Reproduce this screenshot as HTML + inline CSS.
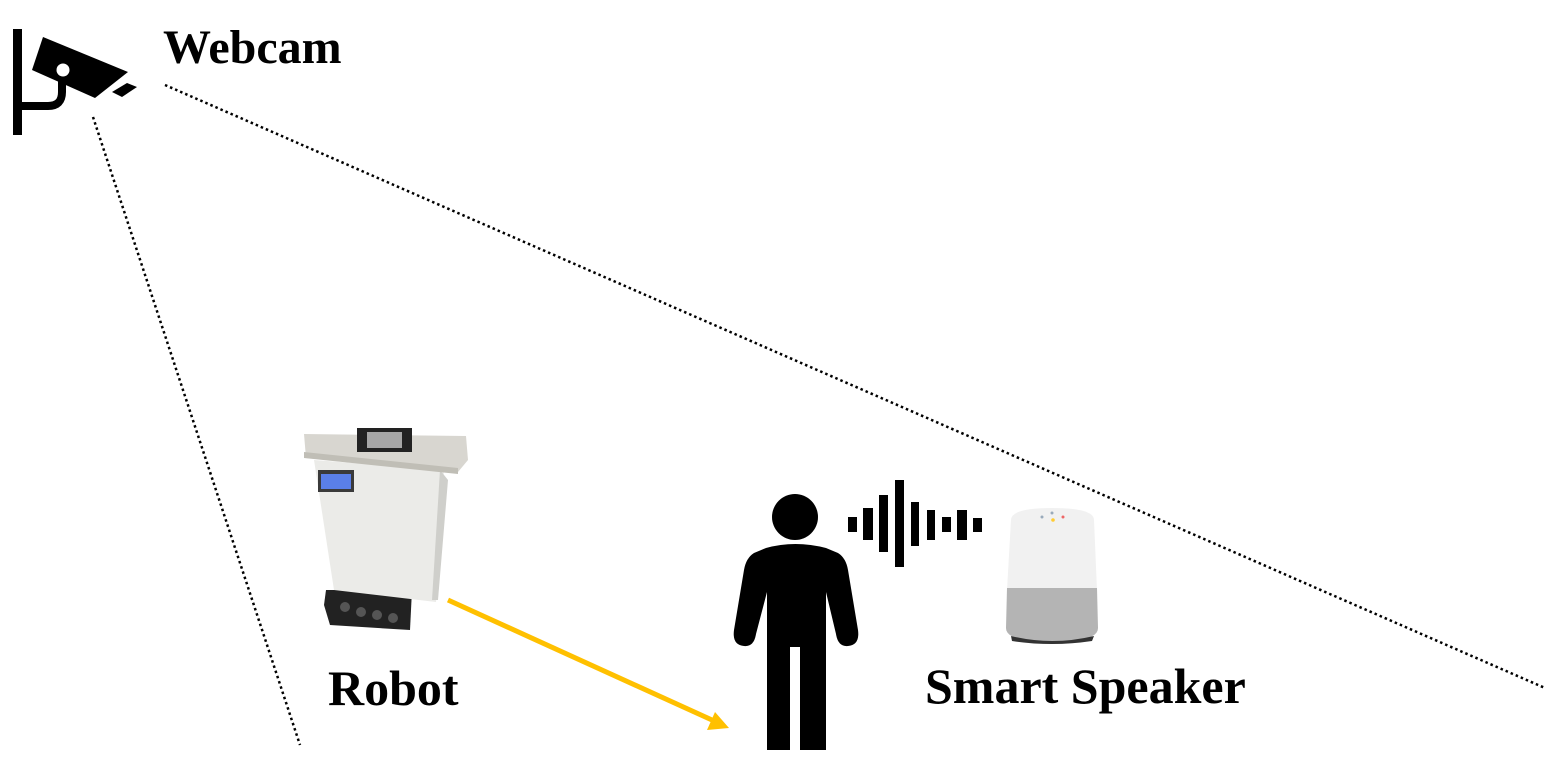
<!DOCTYPE html>
<html><head><style>
html,body{margin:0;padding:0;background:#fff;}
svg{display:block;}
text{font-family:"Liberation Serif",serif;font-weight:bold;fill:#000;}
</style></head><body>
<svg width="1551" height="759" viewBox="0 0 1551 759" xmlns="http://www.w3.org/2000/svg">
<line x1="165" y1="85" x2="1545" y2="688" stroke="#000" stroke-width="2.5" stroke-dasharray="2.5,3"/>
<line x1="93" y1="117" x2="300" y2="745" stroke="#000" stroke-width="2.5" stroke-dasharray="2.5,3"/>
<rect x="13" y="29" width="9" height="106" fill="#000"/>
<path d="M18 106 H48 Q62 106 62 92 V80" fill="none" stroke="#000" stroke-width="8"/>
<polygon points="43,37 128,72 95,98 32,70" fill="#000"/>
<circle cx="63" cy="70" r="6.5" fill="#fff"/>
<polygon points="112,92 127,83 137,87 122,97" fill="#000"/>
<text x="163" y="63" font-size="48">Webcam</text>
<polygon points="326,590 412,590 410,630 330,625 324,605" fill="#222"/>
<g fill="#555"><circle cx="345" cy="607" r="5"/><circle cx="361" cy="612" r="5"/><circle cx="377" cy="615" r="5"/><circle cx="393" cy="618" r="5"/></g>
<polygon points="314,460 444,470 436,602 334,590" fill="#ebebe8"/>
<polygon points="440,470 448,480 438,600 432,600" fill="#cfcfcb"/>
<polygon points="304,434 466,436 468,460 458,472 306,458" fill="#d8d6d0"/>
<polygon points="304,452 458,468 458,474 304,458" fill="#c0beb6"/>
<rect x="357" y="428" width="55" height="24" fill="#222"/>
<rect x="367" y="432" width="35" height="16" fill="#fff" opacity="0.6"/>
<rect x="318" y="470" width="36" height="22" fill="#3a3a3a"/>
<rect x="321" y="474" width="30" height="15" fill="#5a7fe8"/>
<text x="328" y="705" font-size="50">Robot</text>
<line x1="448" y1="600" x2="712" y2="720" stroke="#FFC000" stroke-width="5"/>
<polygon points="729,728 707,730 715,712" fill="#FFC000"/>
<circle cx="795" cy="517" r="23" fill="#000"/>
<path d="M766 548 Q795 540 826 548 L838 553 Q846 558 848 570 L858 630 Q860 645 848 646 Q838 647 836 634 L826 592 V750 H800 V647 H790 V750 H767 V592 L756 634 Q754 647 744 646 Q732 645 734 630 L744 570 Q746 558 754 553 Z" fill="#000"/>
<g fill="#000">
<rect x="848" y="517" width="9" height="15"/>
<rect x="863" y="508" width="10" height="32"/>
<rect x="879" y="495" width="9" height="57"/>
<rect x="895" y="480" width="9" height="87"/>
<rect x="911" y="502" width="8" height="44"/>
<rect x="927" y="510" width="8" height="30"/>
<rect x="942" y="517" width="9" height="15"/>
<rect x="957" y="510" width="10" height="30"/>
<rect x="973" y="518" width="9" height="14"/>
</g>
<path d="M1011 520 Q1011 508 1052 508 Q1094 508 1094 520 L1097 590 H1007 Z" fill="#f1f1f1"/>
<path d="M1007 588 H1097 L1098 628 Q1098 642 1052 642 Q1006 642 1006 628 Z" fill="#b4b4b4"/>
<path d="M1011 636 Q1052 646 1094 636 L1092 641 Q1052 647 1012 641 Z" fill="#333"/>
<circle cx="1042" cy="517" r="1.5" fill="#9ab"/><circle cx="1052" cy="513" r="1.5" fill="#9ab"/><circle cx="1053" cy="520" r="1.8" fill="#fc3"/><circle cx="1063" cy="517" r="1.5" fill="#e66"/>
<text x="925" y="703" font-size="50">Smart Speaker</text>
</svg>
</body></html>
